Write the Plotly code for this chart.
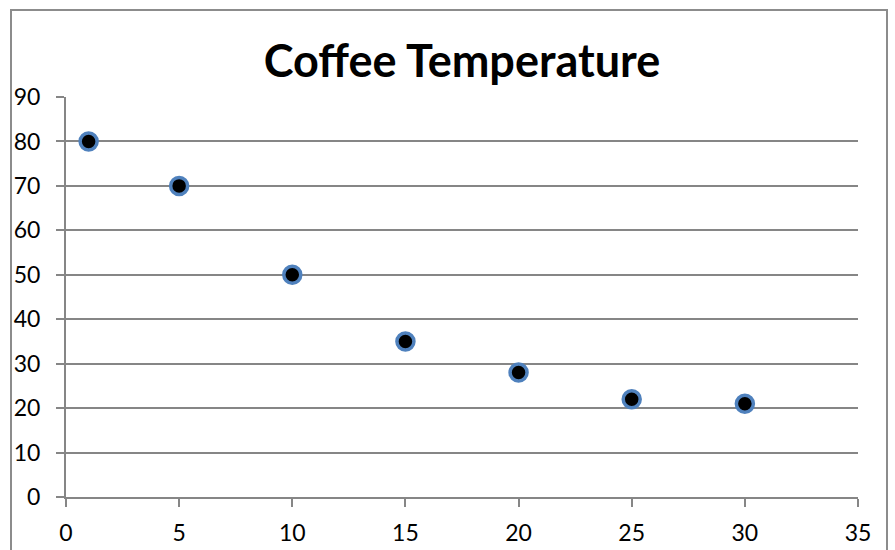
import plotly.graph_objects as go

# minutes vs coffee temperature
minutes = [1, 5, 10, 15, 20, 25, 30]
temperature = [80, 70, 50, 35, 28, 22, 21]

W, H = 895, 550
L, R, T, B = 66, 37, 97, 53
pw, ph = W - L - R, H - T - B

grey = "#868686"

fig = go.Figure()
fig.add_trace(go.Scatter(
    x=minutes,
    y=temperature,
    mode="markers",
    marker=dict(size=17, color="black", line=dict(color="#4F81BD", width=3.5)),
    showlegend=False,
))

# outer chart border (Excel style)
fig.add_shape(
    type="rect", xref="paper", yref="paper",
    x0=(11 - L) / pw, x1=(887 - L) / pw,
    y0=(H - B - 570) / ph, y1=(H - B - 10) / ph,
    line=dict(color="#8c8c8c", width=2), fillcolor="rgba(0,0,0,0)",
    layer="below",
)

fig.update_layout(
    width=W, height=H,
    margin=dict(l=L, r=R, t=T, b=B),
    plot_bgcolor="white",
    paper_bgcolor="white",
    font=dict(family="Lato, Carlito, Calibri, sans-serif", size=23, color="black"),
    title=dict(
        text="<b>Coffee Temperature</b>",
        x=0.5, xanchor="center", xref="paper",
        y=1 - 61 / H, yanchor="middle",
        font=dict(size=45, color="black"),
    ),
    xaxis=dict(
        range=[0, 35], dtick=5, tick0=0,
        showgrid=False, zeroline=False,
        showline=True, linecolor=grey, linewidth=2,
        ticks="outside", ticklen=8, tickwidth=2, tickcolor=grey,
        ticklabelstandoff=6, automargin=False,
    ),
    yaxis=dict(
        range=[0, 90], dtick=10, tick0=0,
        showgrid=True, gridcolor=grey, gridwidth=1.5,
        zeroline=False,
        showline=True, linecolor=grey, linewidth=2,
        ticks="outside", ticklen=8, tickwidth=2, tickcolor=grey,
        ticklabelstandoff=11, automargin=False,
    ),
)

# drop the default page margin so the chart sits at the window's corner
fig.write_html(
    "out.html",
    config={"displayModeBar": False},
    post_script="document.body.style.margin='0';",
)
